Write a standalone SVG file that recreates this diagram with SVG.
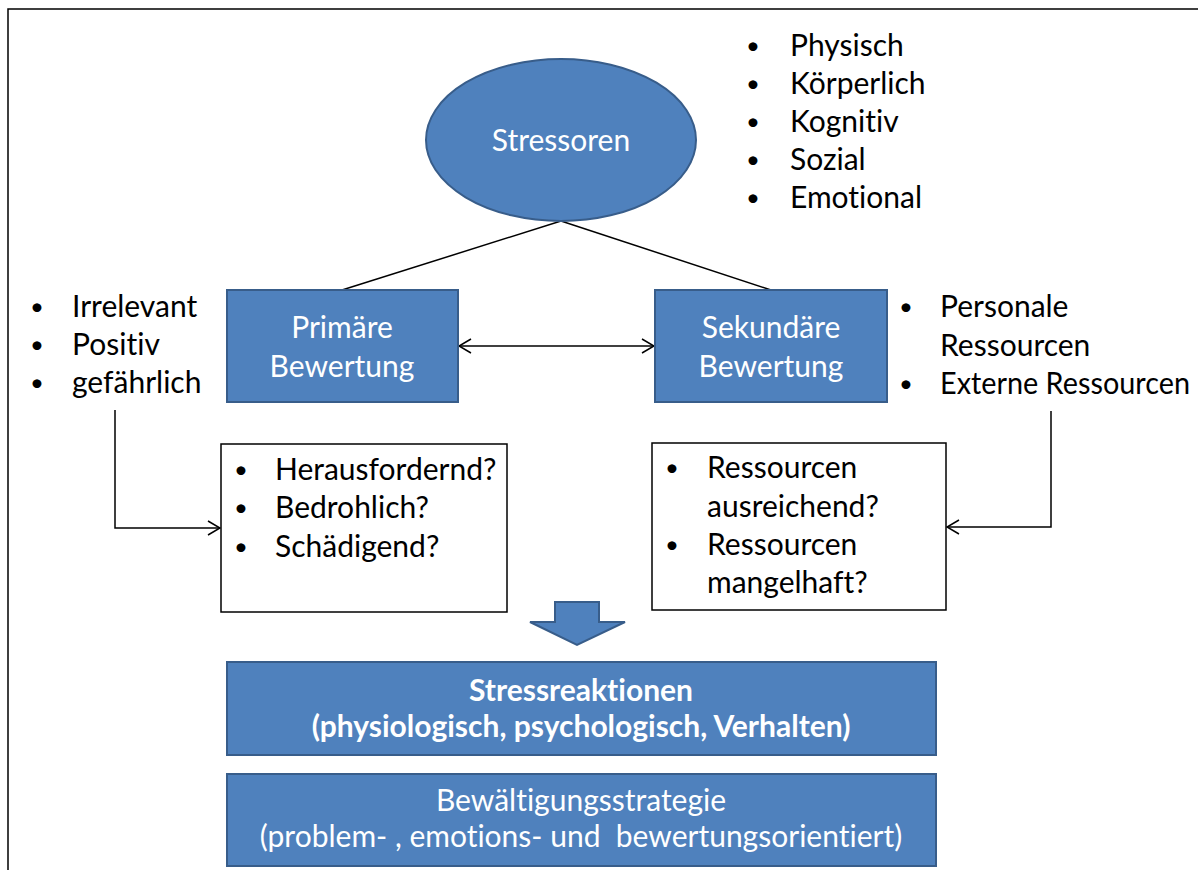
<svg xmlns="http://www.w3.org/2000/svg" width="1198" height="870" viewBox="0 0 1198 870">
<style>
.blue{fill:#4F81BD;stroke:#385D8A;stroke-width:2}
.wbox{fill:#FFFFFF;stroke:#000000;stroke-width:1.5}
text{font-variant-ligatures:none}
.t{font-family:Lato,"Liberation Sans",sans-serif;font-size:30px;fill:#000000}
.b{font-family:Lato,"Liberation Sans",sans-serif;font-size:24px;fill:#000000}
.w{font-family:Lato,"Liberation Sans",sans-serif;font-size:30px;fill:#FFFFFF;text-anchor:middle}
.wb{font-family:Lato,"Liberation Sans",sans-serif;font-size:30px;font-weight:bold;fill:#FFFFFF;text-anchor:middle}
.ln{fill:none;stroke:#000000;stroke-width:1.5}
</style>
<defs>
<marker id="open" viewBox="0 0 14 16" refX="13" refY="8" markerWidth="14" markerHeight="16" markerUnits="userSpaceOnUse" orient="auto-start-reverse">
<path d="M1,1 L13,8 L1,15" fill="none" stroke="#000000" stroke-width="1.5"/>
</marker>
</defs>
<rect x="0" y="0" width="1198" height="870" fill="#FFFFFF"/>
<rect id="frame" x="8" y="9" width="1200" height="880" fill="none" stroke="#000000" stroke-width="1.5"/>

<g id="connectors">
<line class="ln" x1="561" y1="221" x2="342" y2="290"/>
<line class="ln" x1="561" y1="221" x2="771" y2="290"/>
<line class="ln" x1="459" y1="346" x2="654" y2="346" marker-start="url(#open)" marker-end="url(#open)"/>
<polyline class="ln" points="115,410 115,528 220,528" marker-end="url(#open)"/>
<polyline class="ln" points="1051,411 1051,527 947,527" marker-end="url(#open)"/>
</g>

<g id="stressoren">
<ellipse class="blue" cx="561" cy="140" rx="135" ry="81"/>
<text class="w" x="561" y="151">Stressoren</text>
</g>

<g id="stressor-list">
<text class="b" x="746" y="54">•</text><text class="t" x="790" y="56">Physisch</text>
<text class="b" x="746" y="92">•</text><text class="t" x="790" y="94">Körperlich</text>
<text class="b" x="746" y="130">•</text><text class="t" x="790" y="132">Kognitiv</text>
<text class="b" x="746" y="168">•</text><text class="t" x="790" y="170">Sozial</text>
<text class="b" x="746" y="206">•</text><text class="t" x="790" y="208">Emotional</text>
</g>

<g id="primary-list">
<text class="b" x="30" y="315">•</text><text class="t" x="72" y="317">Irrelevant</text>
<text class="b" x="30" y="353">•</text><text class="t" x="72" y="355">Positiv</text>
<text class="b" x="30" y="391">•</text><text class="t" x="72" y="393">gefährlich</text>
</g>

<g id="primaere">
<rect class="blue" x="227" y="290" width="231" height="112"/>
<text class="w" x="342" y="338">Primäre</text>
<text class="w" x="342" y="377">Bewertung</text>
</g>

<g id="sekundaere">
<rect class="blue" x="655" y="290" width="232" height="112"/>
<text class="w" x="771" y="338">Sekundäre</text>
<text class="w" x="771" y="377">Bewertung</text>
</g>

<g id="secondary-list">
<text class="b" x="899" y="315">•</text><text class="t" x="940" y="317">Personale</text>
<text class="t" x="940" y="356">Ressourcen</text>
<text class="b" x="899" y="392">•</text><text class="t" x="940" y="394" textLength="250" lengthAdjust="spacingAndGlyphs">Externe Ressourcen</text>
</g>

<g id="bewertung-primaer">
<rect class="wbox" x="221" y="444" width="286" height="168"/>
<text class="b" x="234" y="478">•</text><text class="t" x="275" y="480">Herausfordernd?</text>
<text class="b" x="234" y="516">•</text><text class="t" x="275" y="518">Bedrohlich?</text>
<text class="b" x="234" y="555">•</text><text class="t" x="275" y="557">Schädigend?</text>
</g>

<g id="bewertung-sekundaer">
<rect class="wbox" x="652" y="443" width="294" height="167"/>
<text class="b" x="665" y="476">•</text><text class="t" x="707" y="478">Ressourcen</text>
<text class="t" x="707" y="517">ausreichend?</text>
<text class="b" x="665" y="553">•</text><text class="t" x="707" y="555">Ressourcen</text>
<text class="t" x="707" y="593">mangelhaft?</text>
</g>

<g id="block-arrow">
<polygon class="blue" points="555,602 599,602 599,622 625,622 577,645 530,622 555,622"/>
</g>

<g id="stressreaktionen">
<rect class="blue" x="227" y="662" width="709" height="93"/>
<text class="wb" x="581" y="701">Stressreaktionen</text>
<text class="wb" x="581" y="737">(physiologisch, psychologisch, Verhalten)</text>
</g>

<g id="bewaeltigung">
<rect class="blue" x="227" y="774" width="709" height="92"/>
<text class="w" x="581" y="811">Bewältigungsstrategie</text>
<text class="w" x="581" y="847" xml:space="preserve">(problem- , emotions- und  bewertungsorientiert)</text>
</g>
</svg>
